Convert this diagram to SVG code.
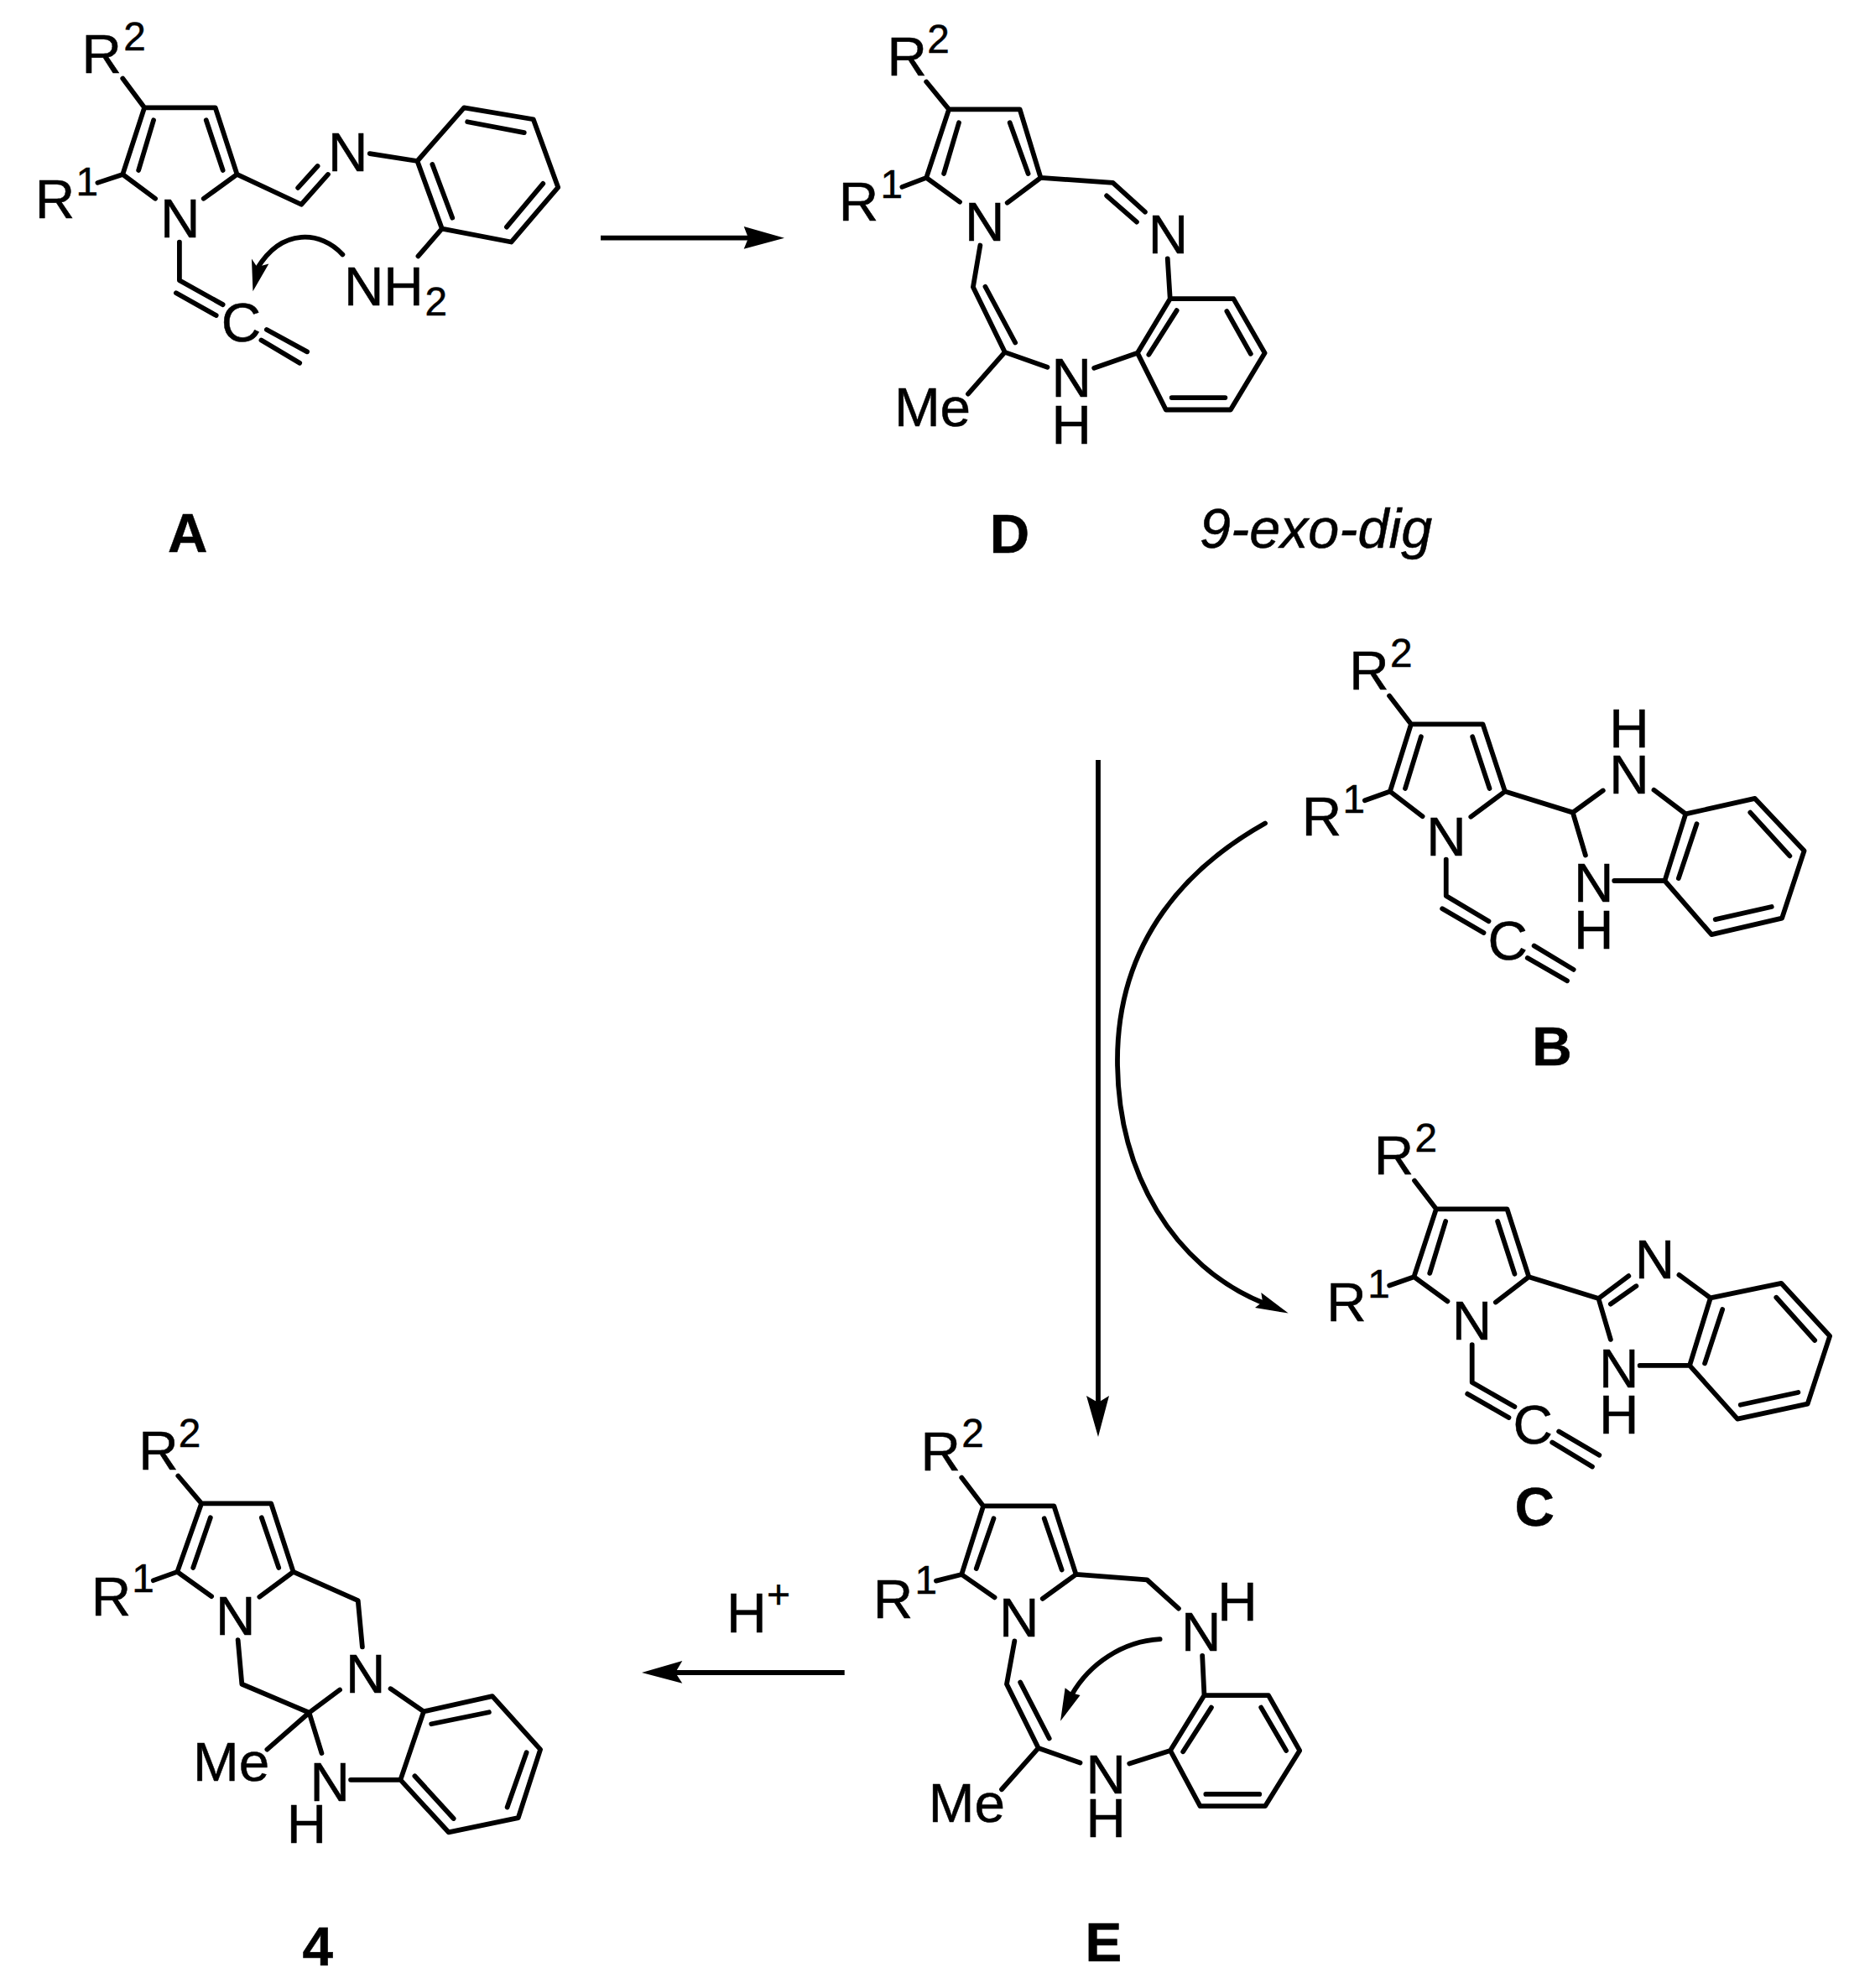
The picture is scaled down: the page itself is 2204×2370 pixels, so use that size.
<svg xmlns="http://www.w3.org/2000/svg" width="2204" height="2370" viewBox="0 0 2204 2370">
<style>
.b{fill:none;stroke:#000;stroke-width:5.8;stroke-linecap:round;stroke-linejoin:round}
.a{fill:none;stroke:#000;stroke-width:5.8}
.r{stroke-linecap:round}
.h{fill:#000;stroke:none}
text{font-family:"Liberation Sans",Arial,sans-serif;fill:#000;stroke:#000;stroke-width:.5}
.t{font-size:66px}
.s{font-size:48px}
.l{font-size:66px;font-weight:bold}
.i{font-size:66.5px;font-style:italic}
</style>
<rect width="2204" height="2370" fill="#fff"/>
<g id="connectors">
<path class="a" d="M716,283.7H892"/><polygon class="h" points="935,283.7 886.7,270 892,283.7 886.7,296.7"/>
<path class="a" d="M1309,906V1672"/><polygon class="h" points="1309,1713 1295,1664 1309,1672 1322,1664"/>
<path class="a r" d="M1508,981.5C1420,1031 1332,1117 1332,1264C1332,1400 1400,1510 1505,1553"/><polygon class="h" points="1535.7,1565.6 1503.3,1541 1505,1552 1496,1559"/>
<path class="a" d="M1006.7,1994H805"/><polygon class="h" points="765,1994 813.3,1980 805,1994 813.3,2006.7"/>
<g transform="matrix(.9949 0 0 .9949 0 0)"><path class="a r" d="M410.5,305C385,277 338,272 308,322"/><polygon class="h" points="303,349 301.5,310 308,320 322,316"/></g>
<g transform="matrix(.9949 0 0 .9949 5.1 8.57)"><path class="a r" d="M1384.6,1955.5C1340,1958 1300,1985 1279,2022"/><polygon class="h" points="1265.4,2053.7 1271,2014 1279,2020 1289,2022.8"/></g>
</g>
<g id="node-A" transform="matrix(.9949 0 0 .9949 0 0)">
<path class="b" d="M147,94L173,129M173,129H258L284,209L244,238M173,129L147,209L186,238M184,144L166,204M247,144L267,204M147,209L117,219M284,209L361,245L393,209M357,225L380.5,199M443,184L500,193M500,193L556,129L639,143L668.6,224.5L612.5,290L529.5,274Z M560,146L628,159M650.6,220L607,272M542,261L518,197M529.5,274L501,307M215,290V336L267,365M211,351L259,378M319.5,395L368,421.5M313,407.5L359,435"/>
<text class="t" x="98" y="87">R</text><text class="s" x="148" y="60">2</text>
<text class="t" x="42" y="261.5">R</text><text class="s" x="91" y="234">1</text>
<text class="t" x="192" y="284">N</text><text class="t" x="393" y="205">N</text>
<text class="t" x="412" y="366">NH</text><text class="s" x="509" y="378">2</text>
<text class="t" x="265" y="409">C</text>
<text class="l" x="201" y="661">A</text>
</g>
<g id="node-D" transform="matrix(.9949 0 0 .9949 4.85 0)">
<path class="b" d="M1105,98L1132,131H1217L1242,213L1202,243M1132,131L1105,213L1145,242M1144,147L1126,208M1205,147L1227,208M1105,213L1076,224M1242,213L1328.5,219L1367,254M1321,234.5L1357,266M1394,310L1397,358M1397,358H1473L1510.5,423L1469.5,491H1392L1358,423Z M1465,373L1493.6,424M1463,476.5H1399M1371.5,425L1405,372M1358,423L1306,441M1250,440L1199,422L1161,344L1169.5,294M1211.5,410.6L1175.6,343.5M1199,422L1155,472"/>
<text class="t" x="1058" y="90">R</text><text class="s" x="1106" y="63">2</text>
<text class="t" x="1000" y="264">R</text><text class="s" x="1050" y="237">1</text>
<text class="t" x="1151" y="288">N</text><text class="t" x="1371" y="304">N</text>
<text class="t" x="1255" y="475">N</text><text class="t" x="1255" y="531.5">H</text>
<text class="t" x="1066.5" y="511">Me</text>
<text class="l" x="1181" y="662">D</text>
</g>
<g id="label-9-exo-dig"><text class="i" x="1430" y="652.5">9-exo-dig</text></g>
<g id="node-B" transform="matrix(.9949 0 0 .9949 7.55 3.77)">
<path class="b" d="M1657,830L1683,864H1769L1795.6,944.6L1754.7,975M1683,864L1657.8,944.6L1696.7,974.4M1695,879L1676,941M1756.6,879L1777,941M1657.8,944.6L1627.6,955.4M1795.6,944.6L1876.8,969.8L1913,943.5M1876.8,969.8L1892,1021M1926.5,1051.6H1987M1974,942.8L2012,971.6M2012,971.6L2095,953L2154,1015.7L2127.4,1096.5L2043,1116L1987,1051.6Z M2089.4,969.8L2136.7,1021.8M2115,1082.8L2047.6,1098M2003.5,1048.7L2025.3,983.4M1725,1026V1069.6L1776,1100M1720.4,1085L1770,1114M1830.4,1129.5L1877.7,1158M1822.5,1144L1870,1171.5"/>
<text class="t" x="1609" y="822.6">R</text><text class="s" x="1658" y="795.6">2</text>
<text class="t" x="1552" y="997.4">R</text><text class="s" x="1601" y="969.8">1</text>
<text class="t" x="1701.5" y="1021">N</text>
<text class="t" x="1920.5" y="947.5">N</text><text class="t" x="1920.5" y="891.5">H</text>
<text class="t" x="1878" y="1076.7">N</text><text class="t" x="1878" y="1133">H</text>
<text class="t" x="1775" y="1146">C</text>
<text class="l" x="1828" y="1273">B</text>
</g>
<g id="node-C" transform="matrix(.9949 0 0 .9949 7.65 6.63)">
<path class="b" d="M1687,1408L1713,1442H1798L1824,1523.3L1784.3,1553.8M1713,1442L1686.4,1523.3L1726.6,1552.7M1724.3,1456.8L1705.3,1519M1786.6,1456.8L1807,1519.8M1686.4,1523.3L1657,1533.7M1824,1523.3L1907.5,1549.3L1943.6,1522.3M1922,1556L1952.7,1534.4M1907.5,1549.3L1922,1598.4M2004,1521L2041.6,1548.6M2041.6,1548.6L2126.4,1531L2184.6,1594.3L2158,1675.6L2074,1693.6L2016.7,1629.6Z M2120.5,1548L2166.6,1599.5M2146.7,1661.8L2077.7,1676.7M2034.8,1627L2056,1562.4M1957,1629.6H2016.7M1756,1604.6V1649.7L1807,1679M1750.5,1663.5L1800,1692M1860,1708.5L1908.4,1737M1852,1721.7L1900,1750.8"/>
<text class="t" x="1638.5" y="1401">R</text><text class="s" x="1687.5" y="1373.7">2</text>
<text class="t" x="1581.6" y="1576">R</text><text class="s" x="1631" y="1548.6">1</text>
<text class="t" x="1732" y="1598.4">N</text>
<text class="t" x="1951" y="1525">N</text>
<text class="t" x="1908" y="1655.5">N</text><text class="t" x="1908" y="1711">H</text>
<text class="t" x="1805" y="1723">C</text>
<text class="l" x="1807" y="1822">C</text>
</g>
<g id="node-E" transform="matrix(.9949 0 0 .9949 5.1 8.57)">
<path class="b" d="M1147,1762L1173,1796H1257.7L1284,1878L1244,1907M1173,1796L1147,1878L1186.5,1905.6M1185.4,1811L1164.6,1871M1246,1811L1267,1872.4M1147,1878L1116.5,1885.7M1284,1878L1369,1884.3L1407,1918.8M1435.4,1975.5L1437.7,2022.8M1437.7,2022.8H1514.6L1552,2089L1510.8,2155.5H1432.7L1397,2089Z M1505.8,2037.4L1535.8,2089M1503.8,2141.3H1439.6M1412.3,2090.4L1446.2,2037.4M1397,2089L1348,2104.6M1289,2103.7L1239,2086L1201,2009.5L1210.4,1957.8M1252,2074.5L1217.3,2007.3M1239,2086L1195,2135.6"/>
<text class="t" x="1098" y="1753">R</text><text class="s" x="1147" y="1725.5">2</text>
<text class="t" x="1041" y="1930">R</text><text class="s" x="1091" y="1901">1</text>
<text class="t" x="1192" y="1952">N</text>
<text class="t" x="1410" y="1969.7">N</text><text class="t" x="1453.5" y="1933.4">H</text>
<text class="t" x="1296" y="2140">N</text><text class="t" x="1296" y="2193">H</text>
<text class="t" x="1107.3" y="2175">Me</text>
<text class="l" x="1295" y="2341">E</text>
</g>
<g id="label-H-plus"><text class="t" x="866" y="1945.7">H</text><text class="s" x="914" y="1917">+</text></g>
<g id="node-4" transform="matrix(.9949 0 0 .9949 .41 8.47)">
<path class="b" d="M213,1760L241,1793H324.4L351,1875L310.5,1905M241,1793L212,1875L253,1904.4M251.7,1810L231,1870M313,1810L333.5,1870M212,1875L183.3,1885.3M351,1875L428.5,1909.4L433.7,1965M284.7,1956.7L289.4,2009.5L370,2043.7L406.7,2016.3M370,2043.7L319.6,2087.8M370,2043.7L385,2092.3M419.8,2124.2H479.4M467.5,2015L507.2,2042.3M507.2,2042.3L589.5,2024L647,2087.8L620.5,2169.7L537,2187L479.4,2124.2Z M516.4,2057.3L585.5,2043.2M630.4,2091.4L607.3,2157M543,2170.6L496.5,2119.6"/>
<text class="t" x="165.6" y="1752.4">R</text><text class="s" x="213.5" y="1725">2</text>
<text class="t" x="108.8" y="1927">R</text><text class="s" x="157.7" y="1899">1</text>
<text class="t" x="257.8" y="1950">N</text><text class="t" x="413.6" y="2019.5">N</text>
<text class="t" x="230.8" y="2125">Me</text>
<text class="t" x="371" y="2149">N</text><text class="t" x="343" y="2200">H</text>
<text class="l" x="362" y="2347">4</text>
</g>
</svg>
